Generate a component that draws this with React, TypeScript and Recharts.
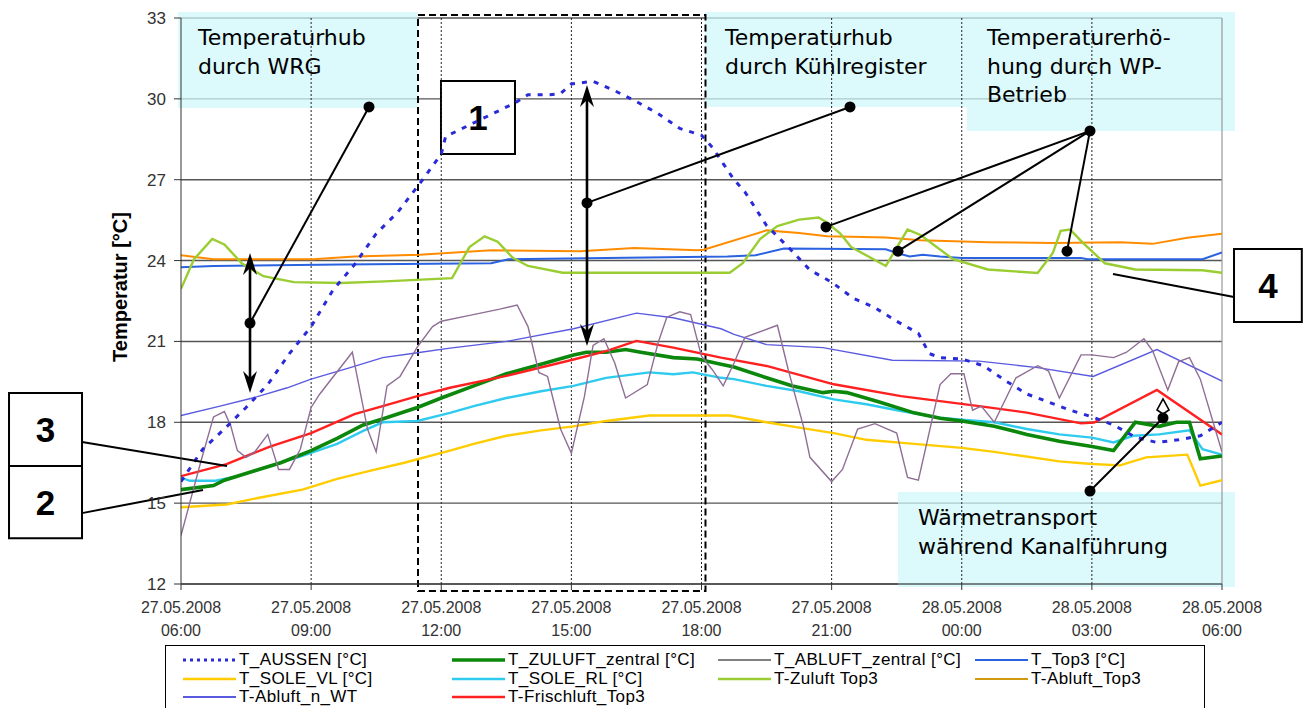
import React from 'react';
import {
  LineChart,
  Line,
  XAxis,
  YAxis,
  CartesianGrid,
  ReferenceArea,
  ReferenceLine,
  ReferenceDot,
} from 'recharts';

type Pt = [number, number];

// Time axis in hours after 27.05.2008 06:00
const xTicks = [0, 3, 6, 9, 12, 15, 18, 21, 24];
const xTickDates = [
  '27.05.2008', '27.05.2008', '27.05.2008', '27.05.2008', '27.05.2008',
  '27.05.2008', '28.05.2008', '28.05.2008', '28.05.2008',
];
const xTickTimes = ['06:00', '09:00', '12:00', '15:00', '18:00', '21:00', '00:00', '03:00', '06:00'];
const yTicks = [12, 15, 18, 21, 24, 27, 30, 33];
const gridHours = [3, 6, 9, 12, 15, 18, 21];

// Measured temperatures [hour, °C]
const tAussen: Pt[] = [
  [0, 15.8], [0.5, 17.0], [1.0, 17.75], [1.5, 18.55], [2.0, 19.4], [2.5, 20.55], [3.0, 21.55],
  [3.5, 22.9], [4.0, 23.85], [4.5, 25.0], [5.0, 25.8], [5.5, 26.85], [6.0, 27.95], [6.1, 28.6],
  [7.7, 29.85], [8.0, 30.15], [8.5, 30.15], [8.75, 30.2], [9.0, 30.55], [9.5, 30.65], [10.0, 30.3],
  [10.5, 29.9], [11.0, 29.45], [11.5, 28.9], [12.0, 28.65], [12.25, 28.2], [12.5, 27.6],
  [12.75, 27.0], [13.0, 26.55], [13.5, 25.3], [14.0, 24.5], [14.5, 23.65], [15.0, 23.2],
  [15.5, 22.6], [16.0, 22.25], [16.5, 21.75], [17.0, 21.3], [17.25, 20.55], [17.5, 20.4],
  [18.0, 20.35], [18.5, 20.1], [19.0, 19.55], [19.5, 19.05], [20.0, 18.75], [20.5, 18.45],
  [21.0, 18.2], [21.5, 17.9], [22.0, 17.45], [22.5, 17.25], [23.0, 17.35], [23.5, 17.5], [24.0, 18.0],
];

const tZuluftZentral: Pt[] = [
  [0, 15.5], [0.75, 15.65], [1.0, 15.85], [1.7, 16.2], [2.3, 16.5], [3.0, 16.95], [3.6, 17.4],
  [4.2, 17.9], [4.7, 18.15], [5.45, 18.55], [6.0, 18.9], [6.75, 19.35], [7.5, 19.8], [8.3, 20.15],
  [9.05, 20.5], [9.35, 20.6], [9.8, 20.6], [10.25, 20.7], [10.6, 20.6], [11.35, 20.4],
  [11.9, 20.35], [12.45, 20.15], [12.75, 20.05], [13.5, 19.65], [14.1, 19.35], [14.8, 19.1],
  [15.05, 19.15], [15.35, 19.1], [16.1, 18.75], [16.9, 18.35], [17.5, 18.15], [18.0, 18.05],
  [18.75, 17.85], [19.5, 17.55], [20.25, 17.3], [21.0, 17.1], [21.5, 16.95], [22.0, 18.0],
  [22.55, 17.85], [22.95, 18.0], [23.25, 18.0], [23.5, 16.65], [24.0, 16.75],
];

const tAbluftZentral: Pt[] = [
  [0, 13.8], [0.45, 16.5], [0.75, 18.2], [1.0, 18.4], [1.15, 17.85], [1.3, 16.95], [1.5, 16.7],
  [1.7, 16.9], [2.0, 17.55], [2.25, 16.25], [2.5, 16.25], [2.75, 17.0], [3.0, 18.55], [3.2, 19.05],
  [3.95, 20.6], [4.3, 17.75], [4.5, 16.9], [4.75, 19.35], [5.05, 19.7], [5.45, 20.8], [5.8, 21.55],
  [6.0, 21.75], [6.6, 21.95], [7.35, 22.2], [7.75, 22.35], [8.0, 21.55], [8.25, 19.85],
  [8.45, 19.7], [8.75, 17.75], [9.0, 16.85], [9.3, 18.95], [9.5, 20.85], [9.75, 21.1],
  [10.0, 20.2], [10.25, 18.9], [10.75, 19.4], [11.0, 20.95], [11.2, 21.9], [11.5, 22.1],
  [11.75, 22.0], [12.0, 20.45], [12.25, 19.95], [12.5, 19.35], [12.75, 20.2], [13.0, 21.15],
  [13.75, 21.6], [14.0, 19.95], [14.35, 17.85], [14.5, 16.7], [15.0, 15.8], [15.25, 16.25],
  [15.6, 17.75], [16.0, 17.95], [16.5, 17.6], [16.75, 15.95], [17.0, 15.85], [17.5, 19.4],
  [17.75, 19.8], [18.05, 19.8], [18.25, 18.45], [18.45, 18.6], [18.75, 18.0], [19.25, 19.65],
  [19.75, 20.1], [20.0, 19.9], [20.25, 18.9], [20.75, 20.5], [21.0, 20.5], [21.5, 20.4],
  [21.8, 20.6], [22.2, 21.1], [22.4, 20.65], [22.75, 19.2], [23.0, 20.25], [23.25, 20.4],
  [23.5, 19.6], [24.0, 16.9],
];

const tTop3: Pt[] = [
  [0, 23.75], [0.75, 23.8], [3.7, 23.85], [7.15, 23.9], [7.55, 24.05], [9.8, 24.1], [12.6, 24.15],
  [13.25, 24.2], [13.9, 24.45], [16.25, 24.42], [16.5, 24.28], [16.8, 24.15], [17.1, 24.22],
  [17.5, 24.15], [18.0, 24.1], [20.75, 24.1], [20.9, 24.05], [23.55, 24.05], [24.0, 24.3],
];

const tSoleVl: Pt[] = [
  [0, 14.85], [1.05, 14.95], [1.8, 15.2], [2.8, 15.5], [3.6, 15.9], [4.35, 16.2], [5.15, 16.5],
  [6.2, 16.95], [6.75, 17.2], [7.5, 17.5], [8.3, 17.7], [9.05, 17.85], [9.8, 18.05], [10.8, 18.25],
  [12.65, 18.25], [13.5, 18.0], [14.25, 17.8], [15.05, 17.6], [15.8, 17.35], [16.9, 17.2],
  [18.0, 17.05], [18.75, 16.9], [20.25, 16.55], [21.0, 16.45], [21.65, 16.4], [22.25, 16.7],
  [23.2, 16.8], [23.5, 15.65], [24.0, 15.85],
];

const tSoleRl: Pt[] = [
  [0, 15.95], [0.2, 15.83], [0.8, 15.83], [1.3, 16.0], [2.05, 16.38], [2.8, 16.75], [3.6, 17.2],
  [4.2, 17.68], [4.65, 18.0], [5.45, 18.05], [6.2, 18.35], [6.75, 18.6], [7.5, 18.9], [8.3, 19.15],
  [9.05, 19.35], [9.8, 19.65], [10.3, 19.75], [10.8, 19.85], [11.35, 19.78], [11.8, 19.85],
  [12.45, 19.65], [12.75, 19.6], [13.5, 19.35], [14.25, 19.15], [15.05, 18.85], [15.8, 18.67],
  [16.6, 18.42], [17.5, 18.17], [18.0, 18.1], [18.75, 18.0], [19.5, 17.75], [20.25, 17.55],
  [21.0, 17.43], [21.5, 17.25], [21.95, 17.5], [22.55, 17.55], [23.25, 17.7], [23.55, 17.0],
  [24.0, 16.8],
];

const tZuluftTop3: Pt[] = [
  [0, 22.95], [0.3, 24.05], [0.72, 24.8], [1.0, 24.6], [1.4, 23.9], [1.9, 23.42], [2.6, 23.2],
  [3.7, 23.17], [4.7, 23.23], [6.25, 23.35], [6.65, 24.5], [7.0, 24.9], [7.3, 24.7], [7.65, 24.1],
  [8.0, 23.8], [8.8, 23.55], [12.65, 23.55], [12.95, 23.9], [13.35, 24.8], [13.75, 25.28],
  [14.25, 25.52], [14.7, 25.6], [14.9, 25.4], [15.2, 25.0], [15.45, 24.5], [16.25, 23.8],
  [16.75, 25.15], [17.05, 24.95], [17.8, 24.05], [18.6, 23.67], [19.75, 23.54], [20.1, 24.28],
  [20.28, 25.1], [20.5, 25.15], [20.8, 24.65], [21.3, 23.9], [22.0, 23.67], [23.55, 23.64],
  [24.0, 23.55],
];

const tAbluftTop3: Pt[] = [
  [0, 24.2], [0.75, 24.05], [3.05, 24.05], [4.0, 24.15], [5.5, 24.22], [7.15, 24.38], [9.2, 24.35],
  [10.45, 24.47], [11.9, 24.38], [12.05, 24.4], [13.5, 25.12], [14.25, 25.02], [14.9, 24.9],
  [16.25, 24.86], [17.05, 24.75], [18.6, 24.68], [20.1, 24.65], [21.65, 24.68], [22.4, 24.62],
  [23.2, 24.85], [24.0, 25.0],
];

const tAbluftNWt: Pt[] = [
  [0, 18.25], [0.9, 18.6], [1.65, 18.9], [2.45, 19.28], [3.0, 19.6], [3.9, 20.03], [4.65, 20.4],
  [5.45, 20.58], [6.2, 20.75], [7.5, 21.0], [9.05, 21.47], [10.5, 22.05], [11.35, 21.88],
  [12.45, 21.47], [12.75, 21.26], [13.5, 20.88], [14.8, 20.77], [16.4, 20.3], [18.4, 20.27],
  [19.75, 20.03], [21.03, 19.7], [22.5, 20.7], [24.0, 19.53],
];

const tFrischluftTop3: Pt[] = [
  [0, 16.0], [1.05, 16.45], [2.05, 17.1], [3.0, 17.6], [4.0, 18.3], [4.65, 18.6], [5.45, 18.97],
  [6.2, 19.28], [7.5, 19.72], [9.05, 20.33], [9.8, 20.64], [10.5, 21.02], [11.35, 20.77],
  [12.45, 20.4], [13.5, 20.09], [15.05, 19.41], [16.6, 18.97], [18.4, 18.6], [19.5, 18.36],
  [20.75, 17.96], [21.05, 17.99], [22.5, 19.2], [24.0, 17.55],
];

type Series = {
  name: string;
  pts: Pt[];
  color: string;
  legendColor?: string;
  width: number;
  dash?: string;
};

// Drawing order (bottom to top)
const series: Series[] = [
  { name: 'T_SOLE_VL [°C]', pts: tSoleVl, color: '#ffcc00', width: 2.4 },
  { name: 'T_SOLE_RL [°C]', pts: tSoleRl, color: '#2fcbef', width: 2.4 },
  { name: 'T_ZULUFT_zentral [°C]', pts: tZuluftZentral, color: '#0b870b', width: 3.6 },
  { name: 'T-Frischluft_Top3', pts: tFrischluftTop3, color: '#ff2020', width: 2.4 },
  { name: 'T-Abluft_n_WT', pts: tAbluftNWt, color: '#5a5ae0', width: 1.4 },
  { name: 'T_ABLUFT_zentral [°C]', pts: tAbluftZentral, color: '#8f6e96', legendColor: '#808080', width: 1.4 },
  { name: 'T-Abluft_Top3', pts: tAbluftTop3, color: '#ff8c00', legendColor: '#d09a10', width: 2 },
  { name: 'T_Top3 [°C]', pts: tTop3, color: '#2a62e0', width: 2 },
  { name: 'T-Zuluft Top3', pts: tZuluftTop3, color: '#9acd32', width: 2.4 },
  { name: 'T_AUSSEN [°C]', pts: tAussen, color: '#2a2ad8', width: 3, dash: '5 7' },
];

const legendOrder = [
  'T_AUSSEN [°C]', 'T_ZULUFT_zentral [°C]', 'T_ABLUFT_zentral [°C]', 'T_Top3 [°C]',
  'T_SOLE_VL [°C]', 'T_SOLE_RL [°C]', 'T-Zuluft Top3', 'T-Abluft_Top3',
  'T-Abluft_n_WT', 'T-Frischluft_Top3',
];

const toRows = (pts: Pt[]) => pts.map(([h, v]) => ({ h, v }));

// Annotation layout in chart units (hours, °C)
const infoBoxes = [
  { x1: -0.07, x2: 5.46, y1: 29.66, y2: 33.22, lines: ['Temperaturhub', 'durch WRG'] },
  { x1: 12.08, x2: 18.12, y1: 29.7, y2: 33.22, lines: ['Temperaturhub', 'durch Kühlregister'] },
  { x1: 18.12, x2: 24.3, y1: 28.81, y2: 33.22, lines: ['Temperaturerhö-', 'hung durch WP-', 'Betrieb'] },
  { x1: 16.53, x2: 24.3, y1: 11.89, y2: 15.41, lines: ['Wärmetransport', 'während Kanalführung'] },
];

const numberBoxes = [
  { n: '1', x1: 5.994, x2: 7.7, y1: 27.95, y2: 30.66 },
  { n: '3', x1: -3.965, x2: -2.282, y1: 16.38, y2: 19.09 },
  { n: '2', x1: -3.965, x2: -2.282, y1: 13.7, y2: 16.38 },
  { n: '4', x1: 24.277, x2: 25.84, y1: 21.72, y2: 24.43 },
];

type Seg = [number, number, number, number];
const leaders: Seg[] = [
  [4.334, 29.7, 1.591, 21.68],
  [9.36, 26.14, 15.424, 29.7],
  [20.957, 28.81, 14.87, 25.25],
  [20.957, 28.81, 16.53, 24.35],
  [20.957, 28.81, 20.427, 24.35],
  [21.487, 23.5, 24.277, 22.65],
  [-2.282, 17.27, 1.061, 16.38],
  [-2.282, 14.63, 0.507, 15.49],
  [20.957, 15.45, 22.64, 18.16],
];

const doubleArrows: Seg[] = [
  [1.591, 19.09, 1.591, 24.28],
  [9.36, 20.83, 9.36, 30.51],
];

const leaderDots: [number, number][] = [
  [4.334, 29.7], [1.591, 21.68], [9.36, 26.14], [15.424, 29.7],
  [20.957, 28.81], [14.87, 25.25], [16.53, 24.35], [20.427, 24.35], [20.957, 15.45],
];

const openArrowDot: [number, number] = [22.64, 18.16];
const focusFrame = { x1: 5.464, x2: 12.092, y1: 11.74, y2: 33.11 };

const SANS = 'Liberation Sans, Arial, Helvetica, sans-serif';
const VERDANA = 'DejaVu Sans, Verdana, sans-serif';

const boxText = (lines: string[]) => (props: any) => {
  const vb = props.viewBox;
  const x = vb.x + 20;
  return (
    <text x={x} y={vb.y + 33} fontFamily={VERDANA} fontSize={22} fill="#000">
      {lines.map((l, i) => (
        <tspan key={i} x={x} dy={i === 0 ? 0 : 28.6}>
          {l}
        </tspan>
      ))}
    </text>
  );
};

const numText = (n: string) => (props: any) => {
  const vb = props.viewBox;
  return (
    <text
      x={vb.x + vb.width / 2}
      y={vb.y + vb.height / 2 + 12.5}
      textAnchor="middle"
      fontFamily={SANS}
      fontWeight="bold"
      fontSize={35}
      fill="#000"
    >
      {n}
    </text>
  );
};

const head = (tx: number, ty: number, ux: number, uy: number, key: string) => {
  const L = 22;
  const w = 7;
  const notch = 15;
  const bx = tx - ux * L;
  const by = ty - uy * L;
  const nx = -uy;
  const ny = ux;
  const pts = [
    [tx, ty],
    [bx + nx * w, by + ny * w],
    [tx - ux * notch, ty - uy * notch],
    [bx - nx * w, by - ny * w],
  ]
    .map((p) => p.join(','))
    .join(' ');
  return <polygon key={key} points={pts} fill="#000" />;
};

const DoubleArrow = (p: any) => {
  const { x1, y1, x2, y2 } = p;
  const len = Math.hypot(x2 - x1, y2 - y1) || 1;
  const ux = (x2 - x1) / len;
  const uy = (y2 - y1) / len;
  return (
    <g>
      <line
        x1={x1 + ux * 14}
        y1={y1 + uy * 14}
        x2={x2 - ux * 14}
        y2={y2 - uy * 14}
        stroke="#000"
        strokeWidth={2.6}
      />
      {head(x2, y2, ux, uy, 'a')}
      {head(x1, y1, -ux, -uy, 'b')}
    </g>
  );
};

const OpenArrowDot = (p: any) => {
  const { cx, cy } = p;
  const pts = [
    [cx, cy - 19],
    [cx - 6, cy - 8],
    [cx, cy - 4],
    [cx + 6, cy - 8],
  ]
    .map((q) => q.join(','))
    .join(' ');
  return (
    <g>
      <polygon points={pts} fill="#fff" stroke="#000" strokeWidth={1.6} />
      <circle cx={cx} cy={cy} r={5.5} fill="#000" />
    </g>
  );
};

const XTick = (props: any) => {
  const { x, y, payload } = props;
  const i = xTicks.indexOf(payload.value);
  return (
    <g>
      <text x={x} y={y + 21} textAnchor="middle" fontFamily={SANS} fontSize={16} fill="#333">
        {xTickDates[i]}
      </text>
      <text x={x} y={y + 44} textAnchor="middle" fontFamily={SANS} fontSize={16} fill="#333">
        {xTickTimes[i]}
      </text>
    </g>
  );
};

const yLabel = (props: any) => {
  const vb = props.viewBox;
  const cx = vb.x - 1;
  const cy = vb.y + vb.height / 2 - 14;
  return (
    <text
      x={cx}
      y={cy}
      transform={`rotate(-90 ${cx} ${cy})`}
      textAnchor="middle"
      dominantBaseline="central"
      fontFamily={SANS}
      fontWeight="bold"
      fontSize={20}
      fill="#000"
    >
      Temperatur [°C]
    </text>
  );
};

const LegendBox = () => {
  const byName = new Map(series.map((s) => [s.name, s]));
  return (
    <div
      style={{
        position: 'absolute',
        left: 165,
        top: 645,
        width: 1040,
        height: 90,
        border: '1px solid #000',
        boxSizing: 'border-box',
        padding: '5px 0 0 17px',
        display: 'grid',
        gridTemplateColumns: '269px 266px 257px 230px',
        gridAutoRows: '18.5px',
        fontFamily: SANS,
        fontSize: 17,
        letterSpacing: 0.4,
        color: '#000',
        background: '#fff',
      }}
    >
      {legendOrder.map((name) => {
        const s = byName.get(name)!;
        return (
          <div key={name} style={{ display: 'flex', alignItems: 'center', whiteSpace: 'nowrap' }}>
            <svg width={53} height={10} style={{ flex: 'none' }}>
              <line
                x1={0}
                y1={5}
                x2={53}
                y2={5}
                stroke={s.legendColor || s.color}
                strokeWidth={s.dash ? 3 : Math.max(2, s.width)}
                strokeDasharray={s.dash ? '3 4' : undefined}
              />
            </svg>
            <span style={{ marginLeft: 3 }}>{name}</span>
          </div>
        );
      })}
    </div>
  );
};

export default function App() {
  return (
    <div
      style={{
        position: 'absolute',
        left: 0,
        top: 0,
        width: 1304,
        height: 708,
        background: '#fff',
        overflow: 'hidden',
      }}
    >
      <LineChart width={1304} height={708} margin={{ top: 18, right: 82, bottom: 74, left: 121 }}>
        <CartesianGrid vertical={false} stroke="#555" strokeWidth={1.4} />
        <XAxis
          type="number"
          dataKey="h"
          domain={[0, 24]}
          ticks={xTicks}
          interval={0}
          height={50}
          tickSize={6}
          stroke="#333"
          tick={<XTick />}
          allowDataOverflow
        />
        <YAxis
          type="number"
          domain={[12, 33]}
          ticks={yTicks}
          interval={0}
          width={60}
          tickSize={7}
          tickMargin={8}
          stroke="#333"
          tick={{ fill: '#333', fontSize: 17, fontFamily: SANS }}
          label={yLabel}
          allowDataOverflow
        />
        {gridHours.map((h) => (
          <ReferenceLine key={`g${h}`} x={h} stroke="#222" strokeWidth={1} strokeDasharray="2 2" />
        ))}
        <ReferenceLine x={24} stroke="#999" strokeWidth={1.2} />

        {infoBoxes.map((b, i) => (
          <ReferenceArea
            key={`ib${i}`}
            x1={b.x1}
            x2={b.x2}
            y1={b.y1}
            y2={b.y2}
            fill="#cef6f9"
            fillOpacity={0.72}
            stroke="none"
            ifOverflow="visible"
            label={boxText(b.lines)}
          />
        ))}

        {series.map((s) => (
          <Line
            key={s.name}
            name={s.name}
            data={toRows(s.pts)}
            dataKey="v"
            type="linear"
            stroke={s.color}
            strokeWidth={s.width}
            strokeDasharray={s.dash}
            dot={false}
            activeDot={false}
            isAnimationActive={false}
          />
        ))}

        <ReferenceArea
          x1={focusFrame.x1}
          x2={focusFrame.x2}
          y1={focusFrame.y1}
          y2={focusFrame.y2}
          fill="none"
          fillOpacity={0}
          stroke="#000"
          strokeWidth={2}
          strokeDasharray="7 4"
          ifOverflow="visible"
        />

        {numberBoxes.map((b) => (
          <ReferenceArea
            key={`nb${b.n}`}
            x1={b.x1}
            x2={b.x2}
            y1={b.y1}
            y2={b.y2}
            fill="#fff"
            fillOpacity={1}
            stroke="#000"
            strokeWidth={2}
            ifOverflow="visible"
            label={numText(b.n)}
          />
        ))}

        {leaders.map((s, i) => (
          <ReferenceLine
            key={`ld${i}`}
            segment={[
              { x: s[0], y: s[1] },
              { x: s[2], y: s[3] },
            ]}
            stroke="#000"
            strokeWidth={2}
            ifOverflow="visible"
          />
        ))}

        {doubleArrows.map((s, i) => (
          <ReferenceLine
            key={`da${i}`}
            segment={[
              { x: s[0], y: s[1] },
              { x: s[2], y: s[3] },
            ]}
            ifOverflow="visible"
            shape={DoubleArrow}
          />
        ))}

        {leaderDots.map((d, i) => (
          <ReferenceDot
            key={`dt${i}`}
            x={d[0]}
            y={d[1]}
            r={5.5}
            fill="#000"
            stroke="none"
            ifOverflow="visible"
          />
        ))}

        <ReferenceDot x={openArrowDot[0]} y={openArrowDot[1]} r={5.5} ifOverflow="visible" shape={OpenArrowDot} />
      </LineChart>
      <LegendBox />
    </div>
  );
}
